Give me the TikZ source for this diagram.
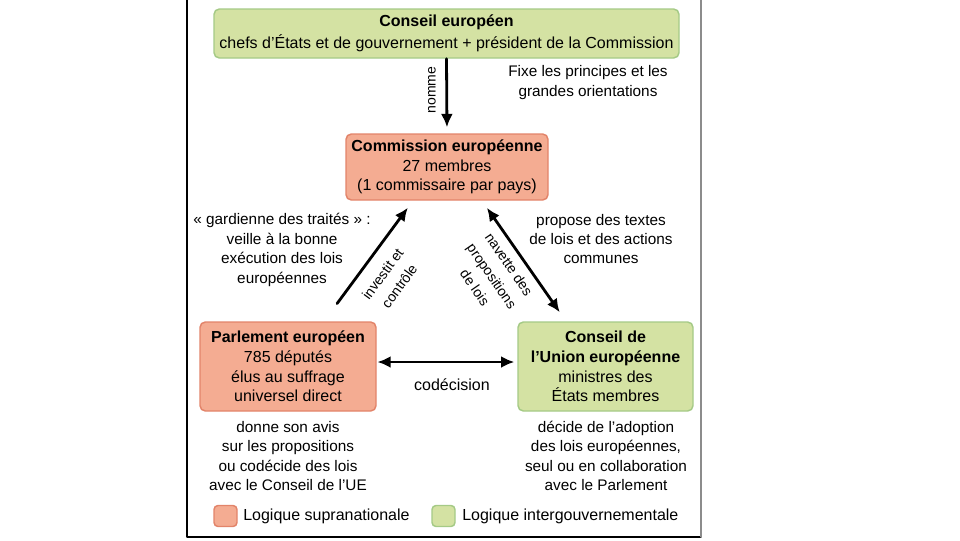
\documentclass[tikz,border=0pt]{standalone}
\usepackage{fontspec}
\setmainfont{Liberation Sans}
\usetikzlibrary{arrows.meta,calc}

\definecolor{supraorange}{RGB}{244,172,146}
\definecolor{supraborde}{RGB}{226,132,106}
\definecolor{intervert}{RGB}{212,226,163}
\definecolor{interborde}{RGB}{165,202,134}

\begin{document}
\begin{tikzpicture}[x=0.75pt,y=-0.75pt,line cap=round,line join=round,
    boite/.style={draw,rounded corners=4pt,line width=1.1pt,align=center,
        inner sep=1pt,font=\fontsize{12}{14.8}\selectfont},
    supra/.style={boite,fill=supraorange,draw=supraborde},
    inter/.style={boite,fill=intervert,draw=interborde},
    texte/.style={align=center,inner sep=0pt,font=\fontsize{11.5}{14.6}\selectfont},
    oblique/.style={align=center,inner sep=0pt,font=\fontsize{10.5}{15.5}\selectfont},
    fleche/.style={line width=2.1pt,-{Latex[length=10pt,width=9pt]}},
    dfleche/.style={line width=2.1pt,{Latex[length=10pt,width=9pt]}-{Latex[length=10pt,width=9pt]}}]

    \useasboundingbox (0,0) rectangle (960,540);

    % Cadre de la figure
    \draw[line width=0.8pt] (187,0) -- (187,537) -- (701,537);
    \draw[line width=0.8pt,black!45] (701,0) -- (701,537);

    % Institutions
    \node[inter,minimum width=348.75pt,minimum height=36.75pt] (ce) at (446.5,33.5)
        {\textbf{Conseil européen}\\[1.5pt]chefs d’États et de gouvernement + président de la Commission};
    \node[supra,minimum width=151.5pt,minimum height=49.5pt] (comm) at (447,167)
        {\textbf{Commission européenne}\\27 membres\\(1 commissaire par pays)};
    \node[supra,minimum width=132pt,minimum height=66.75pt] (parl) at (288,366.5)
        {\textbf{Parlement européen}\\785 députés\\élus au suffrage\\universel direct};
    \node[inter,minimum width=131.25pt,minimum height=66.75pt] (cue) at (605.5,366.5)
        {\textbf{Conseil de}\\\textbf{l’Union européenne}\\ministres des\\États membres};

    % Relations entre institutions
    \draw[fleche,shorten >=4.5pt] (ce.south) -- (comm.north);
    \node[oblique,rotate=90] (nomme) at (432,90) {nomme};

    \draw[fleche,shorten <=16.5pt,shorten >=6.5pt]
        ($(parl.north)+(36,0)$) -- ($(comm.south)+(-34,0)$);
    \node[oblique,rotate=53.8] (invest) at (391,280) {investit et\\contrôle};

    \draw[dfleche,shorten <=6.4pt,shorten >=8.2pt]
        ($(comm.south)+(35,0)$) -- ($(cue.north)+(-39.5,0)$);
    \node[oblique,rotate=-55.4] (navette) at (492,276)
        {navette des\\propositions\\de lois};

    \draw[dfleche,shorten <=0.5pt,shorten >=2.2pt]
        ($(parl.east)+(0,-4.5)$) -- ($(cue.west)+(0,-4.5)$);
    \node[texte,font=\fontsize{12}{14.8}\selectfont] (codec) at (452,385) {codécision};

    % Rôles de chaque institution
    \node[texte] (fixe) at (588,82.5) {Fixe les principes et les\\grandes orientations};
    \node[texte] (garde) at (282,250)
        {«~gardienne des traités~»~:\\veille à la bonne\\exécution des lois\\européennes};
    \node[texte] (propose) at (601,239)
        {propose des textes\\de lois et des actions\\communes};
    \node[texte] (avis) at (288,456)
        {donne son avis\\sur les propositions\\ou codécide des lois\\avec le Conseil de l’UE};
    \node[texte] (decide) at (606,456)
        {décide de l’adoption\\des lois européennes,\\seul ou en collaboration\\avec le Parlement};

    % Légende
    \node[supra,rounded corners=3pt,minimum width=17.25pt,minimum height=15.75pt] (lsupra) at (225.5,516) {};
    \node[texte,font=\fontsize{12}{14.8}\selectfont,anchor=west] (tsupra) at (243,516) {Logique supranationale};
    \node[inter,rounded corners=3pt,minimum width=17.25pt,minimum height=15.75pt] (linter) at (443.5,516) {};
    \node[texte,font=\fontsize{12}{14.8}\selectfont,anchor=west] (tinter) at (462,516) {Logique intergouvernementale};
\end{tikzpicture}
\end{document}
